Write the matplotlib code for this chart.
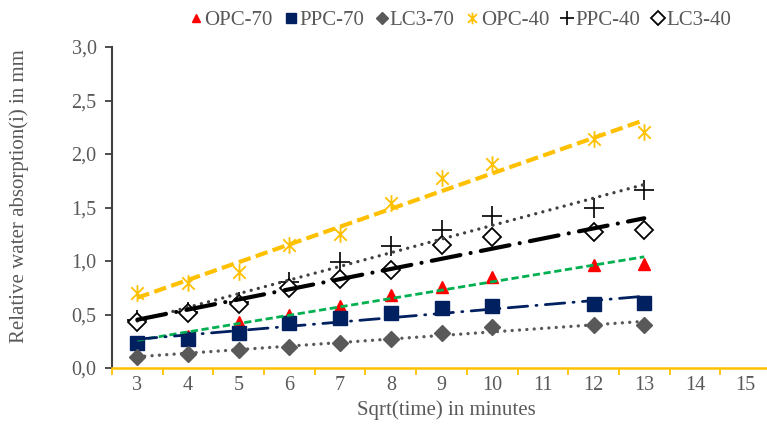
import numpy as np
import matplotlib
matplotlib.use("Agg")
import matplotlib.pyplot as plt
from matplotlib.path import Path
from matplotlib.ticker import FuncFormatter, MultipleLocator, FixedLocator

plt.rcParams['font.family'] = ['Liberation Serif', 'DejaVu Serif']

sqrt_time = [3, 4, 5, 6, 7, 8, 9, 10, 12, 13]
opc_70 = [0.23, 0.30, 0.43, 0.50, 0.58, 0.68, 0.76, 0.85, 0.96, 0.97]
ppc_70 = [0.23, 0.27, 0.33, 0.42, 0.47, 0.51, 0.56, 0.58, 0.60, 0.61]
lc3_70 = [0.10, 0.13, 0.17, 0.20, 0.23, 0.27, 0.33, 0.38, 0.40, 0.40]
opc_40 = [0.70, 0.79, 0.90, 1.15, 1.25, 1.54, 1.78, 1.91, 2.14, 2.21]
ppc_40 = [0.45, 0.52, 0.62, 0.80, 0.99, 1.14, 1.29, 1.42, 1.50, 1.66]
lc3_40 = [0.43, 0.51, 0.60, 0.75, 0.83, 0.92, 1.15, 1.22, 1.27, 1.29]
x_ticks = list(range(3, 16))

TEXT = '#595959'
GOLD = '#FFC000'

# Excel-style star marker: X with a vertical stroke
star = Path([(0, -1), (0, 1), (-0.75, -0.75), (0.75, 0.75), (-0.75, 0.75), (0.75, -0.75)],
            [Path.MOVETO, Path.LINETO, Path.MOVETO, Path.LINETO, Path.MOVETO, Path.LINETO])

fig = plt.figure(figsize=(7.67, 4.34), dpi=100)
ax = fig.add_axes([112 / 767, 66 / 434, 659 / 767, 321 / 434])

series = [
    ("OPC-70", opc_70, dict(marker='^', ms=8, mfc='#FF0000', mec='#FF0000'),
     dict(color='#00B050', lw=2.0, dashes=(2.6, 1.3))),
    ("PPC-70", ppc_70, dict(marker='s', ms=10, mfc='#002060', mec='#002060'),
     dict(color='#002060', lw=2.0, dashes=(7, 3, 0.4, 3), dash_capstyle='round')),
    ("LC3-70", lc3_70, dict(marker='D', ms=8.5, mfc='#595959', mec='#595959'),
     dict(color='#595959', lw=2.4, dashes=(0.01, 2.2), dash_capstyle='round')),
    ("OPC-40", opc_40, dict(marker=star, ms=12, mfc='none', mec=GOLD, mew=1.3),
     dict(color=GOLD, lw=3.0, dashes=(3.0, 1.3))),
    ("PPC-40", ppc_40, dict(marker='+', ms=14, mfc='none', mec='black', mew=1.2),
     dict(color='#404040', lw=2.4, dashes=(0.01, 2.2), dash_capstyle='round')),
    ("LC3-40", lc3_40, dict(marker='D', ms=9.5, mfc='white', mec='black', mew=1.3),
     dict(color='black', lw=3.0, dashes=(7, 2.5, 0.01, 2.5), dash_capstyle='round')),
]

handles = []
for name, vals, mstyle, tstyle in series:
    h, = ax.plot(sqrt_time, vals, ls='none', label=name, zorder=3, **mstyle)
    handles.append(h)

# Linear trendlines over the measured range
for name, vals, mstyle, tstyle in series:
    k, b = np.polyfit(sqrt_time, vals, 1)
    xs = np.array([sqrt_time[0], sqrt_time[-1]])
    ax.plot(xs, k * xs + b, zorder=4, **tstyle)

ax.set_xlim(2.5, 15.5)
ax.set_ylim(0, 3.0)
ax.xaxis.set_major_locator(FixedLocator(x_ticks))
ax.xaxis.set_minor_locator(FixedLocator(np.arange(2.5, 15.6, 1.0)))
ax.yaxis.set_major_locator(MultipleLocator(0.5))
ax.yaxis.set_major_formatter(FuncFormatter(lambda v, p: f"{v:.1f}".replace('.', ',')))

for s in ('top', 'right'):
    ax.spines[s].set_visible(False)
ax.spines['left'].set_color('#404040')
ax.spines['left'].set_linewidth(1.5)
ax.spines['bottom'].set_color(GOLD)
ax.spines['bottom'].set_linewidth(1.8)

ax.tick_params(axis='x', which='major', length=0, pad=6, labelsize=14.5, labelcolor=TEXT)
ax.tick_params(axis='x', which='minor', length=5, width=1.3, color=GOLD, direction='out')
ax.tick_params(axis='y', which='major', length=5, width=1.3, color='#404040',
               labelsize=14.5, labelcolor=TEXT, pad=6)

ax.set_xlabel("Sqrt(time) in minutes", fontsize=15, color=TEXT)
ax.xaxis.set_label_coords((446 - 112) / 659, -(400 - 368) / 321)
ax.set_ylabel("Relative water absorption(i) in mm", fontsize=15, color=TEXT)
ax.yaxis.set_label_coords((29 - 112) / 659, (368 - 196) / 321)

fig.legend(handles=handles, loc='center', bbox_to_anchor=(461 / 767, 1 - 20 / 434),
           ncol=6, frameon=False, fontsize=15, labelcolor=TEXT,
           handlelength=0.5, handletextpad=0.15, columnspacing=0.6, markerscale=0.7)

fig.savefig("out.png", dpi=100)
